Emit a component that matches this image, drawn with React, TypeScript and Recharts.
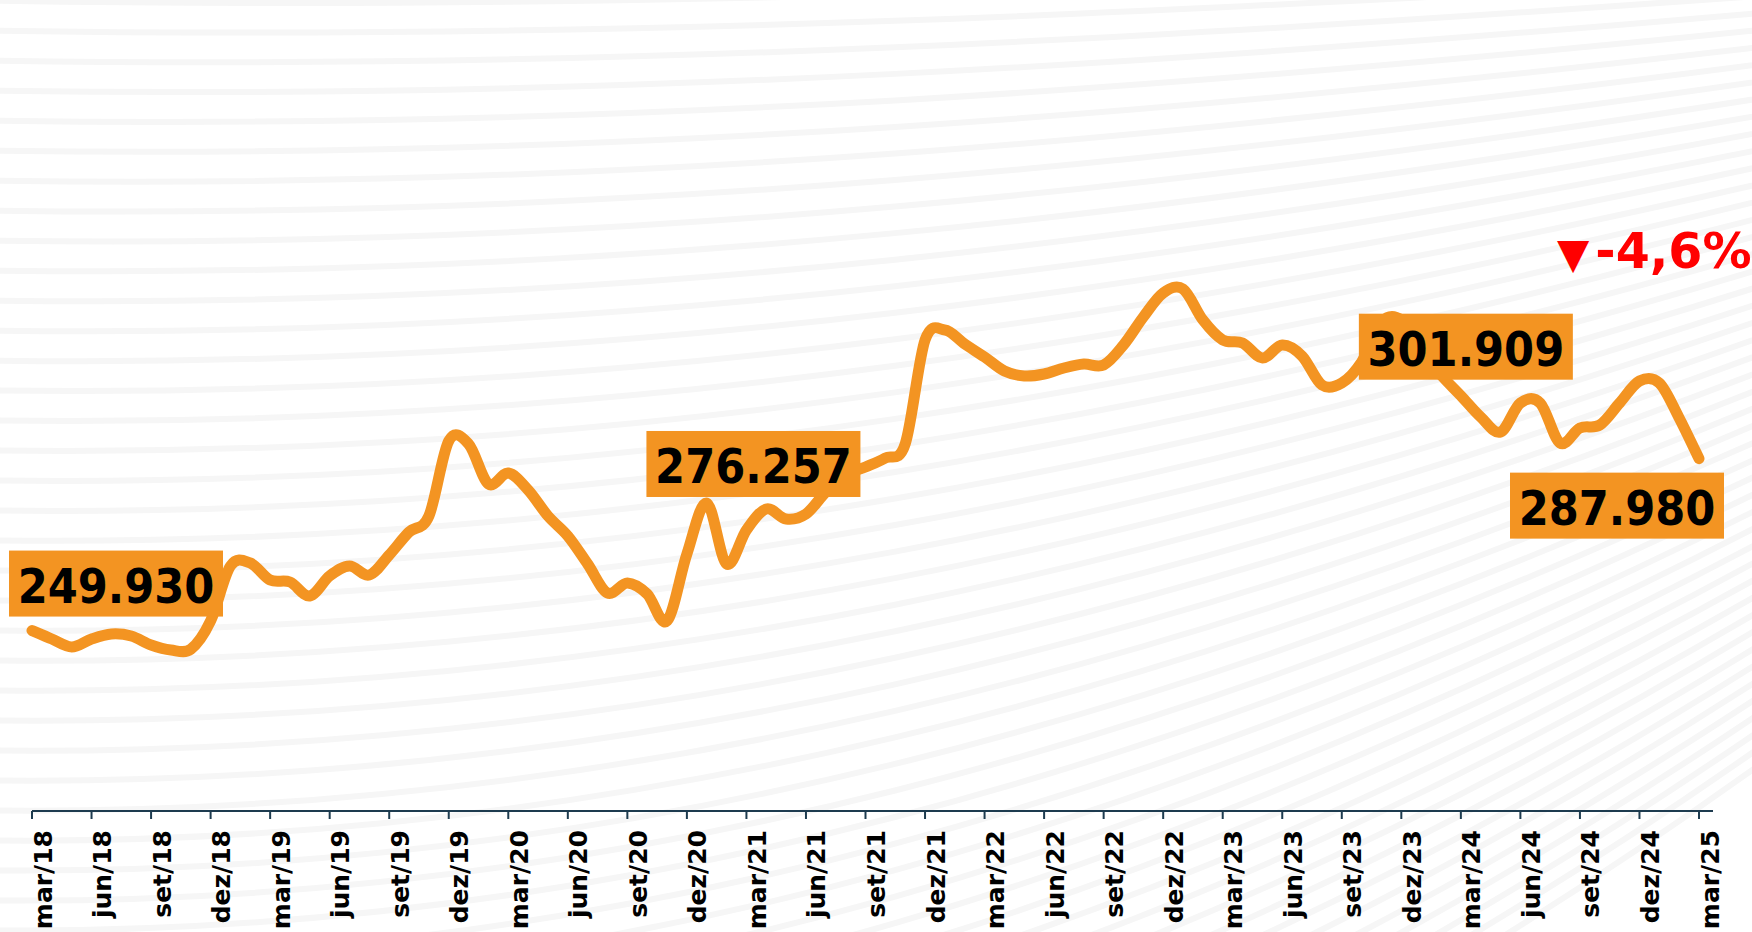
import { LineChart, Line, XAxis, YAxis, LabelList } from "recharts";

// monthly labels mar/18 .. mar/25
const months = [
  "mar/18", "abr/18", "mai/18", "jun/18", "jul/18", "ago/18", "set/18", "out/18", "nov/18", "dez/18",
  "jan/19", "fev/19", "mar/19", "abr/19", "mai/19", "jun/19", "jul/19", "ago/19", "set/19", "out/19", "nov/19", "dez/19",
  "jan/20", "fev/20", "mar/20", "abr/20", "mai/20", "jun/20", "jul/20", "ago/20", "set/20", "out/20", "nov/20", "dez/20",
  "jan/21", "fev/21", "mar/21", "abr/21", "mai/21", "jun/21", "jul/21", "ago/21", "set/21", "out/21", "nov/21", "dez/21",
  "jan/22", "fev/22", "mar/22", "abr/22", "mai/22", "jun/22", "jul/22", "ago/22", "set/22", "out/22", "nov/22", "dez/22",
  "jan/23", "fev/23", "mar/23", "abr/23", "mai/23", "jun/23", "jul/23", "ago/23", "set/23", "out/23", "nov/23", "dez/23",
  "jan/24", "fev/24", "mar/24", "abr/24", "mai/24", "jun/24", "jul/24", "ago/24", "set/24", "out/24", "nov/24", "dez/24",
  "jan/25", "fev/25", "mar/25",
];

const values = [
  249930, 248060, 246290, 248060, 249170, 248730, 246740, 245630, 245800, 252050,
  264220, 264880, 261120, 260680, 257580, 262010, 264220, 262230, 266650, 271740, 275280, 291880,
  291220, 282370, 284800, 281040, 275280, 270860, 264660, 258240, 260460, 258020, 252050, 266870,
  278160, 264660, 272190, 276830, 274620, 275730, 280600, 284360, 286130, 288120, 291220, 314230,
  316450, 313350, 310470, 307370, 306270, 306710, 308040, 308920, 308700, 313130, 319320, 324630,
  325520, 318660, 314230, 313570, 310250, 313130, 310690, 304270, 304720, 309360, 318220, 318660,
  312020, 306490, 301909, 297190, 293870, 300290, 300290, 291440, 294760, 295420, 300290, 305160,
  304720, 296970, 287980,
];

const calloutMonths = ["mar/18", "mar/21", "mar/24", "mar/25"];
const calloutTexts = ["249.930", "276.257", "301.909", "287.980"];
const changeText = "-4,6%";

const data = months.map((m, i) => ({ month: m, value: values[i] }));

const ORANGE = "#F39422";
const AXIS = "#1d3b4f";

// box offsets relative to the point, same order as calloutMonths
const boxOffsets = [
  { dx: -23, dy: -80 },
  { dx: -100, dy: -99 },
  { dx: -102, dy: -82 },
  { dx: -189, dy: 14 },
];

// smoothed line like the spreadsheet one (catmull-rom through the points)
const smoothCurve = (context: any) => {
  let pts: number[][] = [];
  return {
    areaStart() {},
    areaEnd() {},
    lineStart() {
      pts = [];
    },
    point(x: number, y: number) {
      pts.push([+x, +y]);
    },
    lineEnd() {
      if (!pts.length) return;
      context.moveTo(pts[0][0], pts[0][1]);
      for (let i = 0; i < pts.length - 1; i++) {
        const p0 = pts[i - 1] || pts[i];
        const p1 = pts[i];
        const p2 = pts[i + 1];
        const p3 = pts[i + 2] || p2;
        context.bezierCurveTo(
          p1[0] + (p2[0] - p0[0]) / 6,
          p1[1] + (p2[1] - p0[1]) / 6,
          p2[0] - (p3[0] - p1[0]) / 6,
          p2[1] - (p3[1] - p1[1]) / 6,
          p2[0],
          p2[1]
        );
      }
    },
  };
};

const MonthTick = (props: any) => {
  const { x, payload } = props;
  const tx = x + 19.5;
  const ty = 830;
  return (
    <text
      x={tx}
      y={ty}
      transform={`rotate(-90 ${tx} ${ty})`}
      textAnchor="end"
      fontFamily="'DejaVu Sans', Verdana, sans-serif"
      fontWeight="bold"
      fontSize={25}
      fill="#000"
    >
      {payload.value}
    </text>
  );
};

const Callout = (props: any) => {
  const { x, y, index } = props;
  const k = calloutMonths.indexOf(months[index]);
  if (k < 0) return null;
  const off = boxOffsets[k];
  const left = x + off.dx;
  const top = y + off.dy;
  return (
    <g>
      <rect x={left} y={top} width={214} height={66} fill={ORANGE} />
      <text
        x={left + 107}
        y={top + 52}
        textAnchor="middle"
        fontFamily="'DejaVu Sans Condensed', Tahoma, 'DejaVu Sans', sans-serif"
        fontWeight="bold"
        fontSize={48}
        fill="#000"
      >
        {calloutTexts[k]}
      </text>
      {k === calloutMonths.length - 1 && (
        <text
          x={x - 142}
          y={y - 191}
          fontFamily="'DejaVu Sans', Verdana, sans-serif"
          fontWeight="bold"
          fill="#FF0000"
        >
          <tspan fontSize={42}>▼</tspan>
          <tspan dx={6} fontSize={49}>{changeText}</tspan>
        </text>
      )}
    </g>
  );
};

// faint wavy lines in the background
const Waves = () => {
  const paths = [];
  for (let k = -2; k < 48; k++) {
    const y0 = k * 30;
    const a = 40 + 0.45 * y0;
    paths.push(
      <path
        key={k}
        d={`M -40 ${y0} C 600 ${y0 + 12}, 1200 ${y0 - a * 0.35}, 1800 ${y0 - a}`}
        fill="none"
        stroke="#f6f6f6"
        strokeWidth={6}
      />
    );
  }
  return (
    <svg width={1752} height={932} style={{ position: "absolute", left: 0, top: 0 }}>
      {paths}
    </svg>
  );
};

export default function App() {
  return (
    <div style={{ position: "relative", width: 1752, height: 932, background: "#fff", overflow: "hidden" }}>
      <style>{`body{margin:0}`}</style>
      <Waves />
      <div style={{ position: "absolute", left: 0, top: 0 }}>
        <LineChart
          width={1752}
          height={932}
          data={data}
          margin={{ top: 88, right: 39, bottom: 61, left: 32 }}
        >
          <XAxis
            dataKey="month"
            interval={2}
            height={60}
            padding={{ left: 0, right: 14 }}
            axisLine={{ stroke: AXIS, strokeWidth: 2 }}
            tickLine={{ stroke: AXIS, strokeWidth: 2 }}
            tickSize={8}
            tick={<MonthTick />}
          />
          <YAxis hide domain={[210000, 370000]} />
          <Line
            type={smoothCurve as any}
            dataKey="value"
            stroke={ORANGE}
            strokeWidth={11}
            strokeLinecap="round"
            strokeLinejoin="round"
            dot={false}
            activeDot={false}
            isAnimationActive={false}
          >
            <LabelList dataKey="value" content={<Callout />} />
          </Line>
        </LineChart>
      </div>
    </div>
  );
}
